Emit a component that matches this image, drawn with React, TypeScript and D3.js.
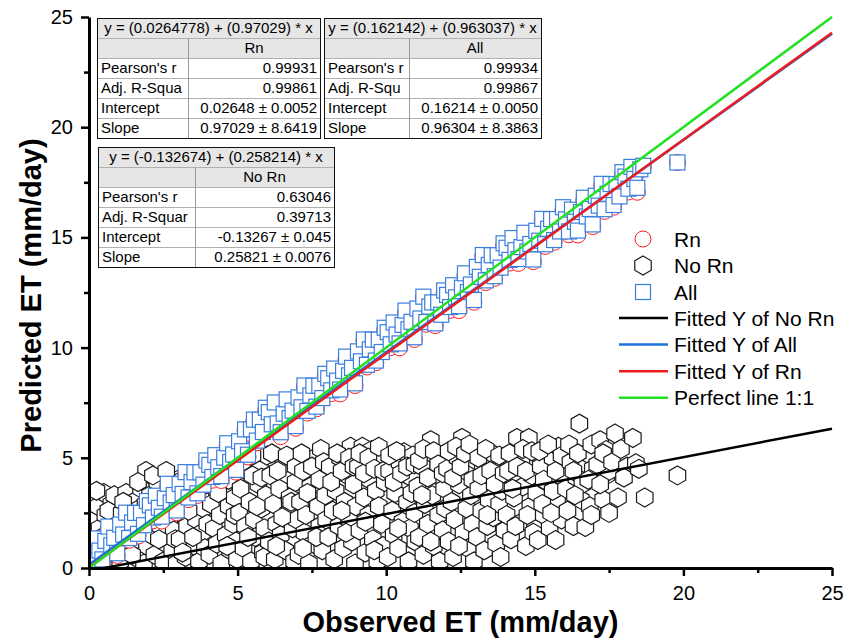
import React, { useEffect, useRef } from 'react';
import * as d3 from 'd3';

const WIDTH = 856;
const HEIGHT = 640;
const PLOT = { left: 89, right: 832, top: 17, bottom: 568 };
const FONT = '"Liberation Sans", Arial, sans-serif';

const majorTicks = [0, 5, 10, 15, 20, 25];
const minorTicks = [2.5, 7.5, 12.5, 17.5, 22.5];

// [observed, predicted with Rn, predicted with all variables]
const rnPoints = [
    [0.05, 0.80, 0.90], [0.15, 0.20, 0.35], [0.25, 1.29, 1.34], [0.35, 0.69, 0.79], [0.45, 0.19, 0.39],
    [0.55, 1.18, 1.23], [0.65, 1.78, 1.88], [0.75, 0.88, 1.03], [0.85, 1.37, 1.37], [0.95, 0.57, 0.67],
    [1.05, 1.87, 1.97], [1.15, 1.37, 1.52], [1.25, 2.46, 2.51], [1.35, 1.26, 1.36], [1.45, 1.86, 2.06],
    [1.55, 2.45, 2.50], [1.65, 1.45, 1.55], [1.75, 2.35, 2.50], [1.85, 1.94, 1.94], [1.95, 2.94, 3.04],
    [2.05, 2.74, 2.84], [2.15, 2.14, 2.29], [2.25, 3.23, 3.28], [2.35, 2.63, 2.73], [2.45, 2.13, 2.33],
    [2.55, 3.12, 3.17], [2.65, 3.72, 3.82], [2.75, 2.82, 2.97], [2.85, 3.31, 3.31], [2.95, 2.51, 2.61],
    [3.05, 3.71, 3.81], [3.15, 3.21, 3.36], [3.25, 4.30, 4.35], [3.35, 3.10, 3.20], [3.45, 3.70, 3.90],
    [3.55, 4.29, 4.34], [3.65, 3.29, 3.39], [3.75, 4.19, 4.34], [3.85, 3.78, 3.78], [3.95, 4.78, 4.88],
    [4.05, 4.58, 4.68], [4.15, 3.98, 4.13], [4.25, 5.07, 5.12], [4.35, 4.47, 4.57], [4.45, 3.97, 4.17],
    [4.55, 4.96, 5.01], [4.65, 5.56, 5.66], [4.75, 4.66, 4.81], [4.85, 5.15, 5.15], [4.95, 4.35, 4.45],
    [5.05, 5.65, 5.75], [5.15, 5.15, 5.30], [5.25, 6.24, 6.29], [5.35, 5.04, 5.14], [5.45, 6.09, 6.29],
    [5.55, 6.68, 6.73], [5.65, 5.68, 5.78], [5.75, 6.58, 6.73], [5.85, 6.17, 6.17], [5.95, 7.17, 7.27],
    [6.05, 6.97, 7.07], [6.15, 6.37, 6.52], [6.25, 7.46, 7.51], [6.35, 6.46, 6.56], [6.45, 5.96, 6.16],
    [6.55, 6.95, 7.00], [6.65, 7.55, 7.65], [6.75, 6.65, 6.80], [6.85, 7.14, 7.14], [6.95, 6.34, 6.44],
    [7.05, 7.64, 7.74], [7.15, 7.14, 7.29], [7.25, 8.23, 8.28], [7.35, 7.03, 7.13], [7.45, 7.63, 7.83],
    [7.55, 8.22, 8.27], [7.65, 7.22, 7.32], [7.75, 8.12, 8.27], [7.85, 7.71, 7.71], [7.95, 8.71, 8.81],
    [8.05, 8.51, 8.61], [8.15, 7.91, 8.06], [8.25, 9.00, 9.05], [8.35, 8.40, 8.50], [8.45, 7.90, 8.10],
    [8.55, 8.89, 8.94], [8.65, 9.49, 9.59], [8.75, 8.59, 8.74], [8.85, 9.08, 9.08], [8.95, 8.28, 8.38],
    [9.05, 9.73, 9.83], [9.15, 9.23, 9.38], [9.25, 10.32, 10.37], [9.35, 9.12, 9.22], [9.45, 9.72, 9.92],
    [9.55, 10.31, 10.36], [9.65, 9.31, 9.41], [9.75, 10.21, 10.36], [9.85, 9.80, 9.80], [9.95, 10.80, 10.90],
    [10.05, 10.60, 10.70], [10.15, 10.00, 10.15], [10.25, 11.09, 11.14], [10.35, 10.49, 10.59], [10.45, 9.99, 10.19],
    [10.55, 10.98, 11.03], [10.65, 11.58, 11.68], [10.75, 10.68, 10.83], [10.85, 11.17, 11.17], [10.95, 10.37, 10.47],
    [11.05, 11.67, 11.77], [11.15, 11.17, 11.32], [11.25, 12.26, 12.31], [11.35, 11.06, 11.16], [11.45, 11.66, 11.86],
    [11.55, 12.00, 12.05], [11.65, 11.00, 11.10], [11.75, 11.90, 12.05], [11.85, 11.49, 11.49], [11.95, 12.49, 12.59],
    [12.05, 12.29, 12.39], [12.15, 11.69, 11.84], [12.25, 12.78, 12.83], [12.35, 12.18, 12.28], [12.45, 11.68, 11.88],
    [12.55, 12.67, 12.72], [12.65, 13.27, 13.37], [12.75, 12.37, 12.52], [12.85, 12.86, 12.86], [12.95, 12.06, 12.16],
    [13.05, 13.56, 13.66], [13.15, 13.06, 13.21], [13.25, 14.15, 14.20], [13.35, 12.95, 13.05], [13.45, 13.55, 13.75],
    [13.55, 14.14, 14.19], [13.65, 13.14, 13.24], [13.75, 14.04, 14.19], [13.85, 13.63, 13.63], [13.95, 14.63, 14.73],
    [14.05, 14.43, 14.53], [14.15, 13.83, 13.98], [14.25, 14.92, 14.97], [14.35, 14.32, 14.42], [14.45, 13.82, 14.02],
    [14.55, 14.51, 14.56], [14.65, 15.11, 15.21], [14.75, 14.21, 14.36], [14.85, 14.70, 14.70], [14.95, 13.90, 14.00],
    [15.05, 15.20, 15.30], [15.15, 14.70, 14.85], [15.25, 15.79, 15.84], [15.35, 14.59, 14.69], [15.45, 15.19, 15.39],
    [15.55, 15.78, 15.83], [15.65, 14.78, 14.88], [15.75, 15.68, 15.83], [15.85, 15.27, 15.27], [15.95, 16.27, 16.37],
    [16.05, 15.72, 15.82], [16.15, 15.12, 15.27], [16.25, 16.21, 16.26], [16.35, 15.61, 15.71], [16.45, 15.11, 15.31],
    [16.55, 16.10, 16.15], [16.65, 16.70, 16.80], [16.75, 15.80, 15.95], [16.85, 16.29, 16.29], [16.95, 15.49, 15.59],
    [17.05, 16.79, 16.89], [17.15, 16.29, 16.44], [17.25, 17.38, 17.43], [17.35, 16.18, 16.28], [17.45, 16.78, 16.98],
    [17.55, 17.37, 17.42], [17.65, 16.37, 16.47], [17.75, 17.27, 17.42], [17.85, 16.86, 16.86], [17.95, 17.86, 17.96],
    [18.05, 17.66, 17.76], [18.15, 17.06, 17.21], [18.25, 18.15, 18.20], [18.35, 17.55, 17.65], [18.45, 17.05, 17.25],
    [18.55, 18.04, 18.09], [18.65, 18.20, 18.25], [19.8, 18.4, 18.4],
];

// [observed, predicted without Rn]
const noRnPoints = [
    [0.05, 3.2], [0.1, 2.2], [0.15, 1.3], [0.2, 0.4], [0.3, 2.8], [0.35, 1.8], [0.4, 0.9], [0.5, 3.4],
    [0.55, 2.4], [0.6, 0.2], [0.7, 1.5], [0.75, 2.9], [0.8, 0.7], [0.9, 2.0], [0.95, 1.1], [0.98, 3.0],
    [0.25, 3.5], [0.45, 1.4], [0.65, 2.6], [0.85, 3.3], [0.4, 0.2],
    [1.05, 0.3], [1.1, 2.5], [1.2, 1.6], [1.25, 3.4], [1.3, 0.9], [1.4, 2.1], [1.5, 3.0], [1.55, 0.5],
    [1.6, 1.3], [1.7, 2.7], [1.75, 3.6], [1.8, 1.9], [1.85, 0.2], [1.92, 4.4], [1.95, 1.0], [1.98, 2.4],
    [1.15, 3.0], [1.35, 1.8], [1.45, 0.6], [1.65, 3.9], [1.9, 2.9],
    [2.05, 3.3], [2.1, 1.5], [2.2, 0.6], [2.25, 2.6], [2.3, 3.9], [2.4, 1.9], [2.5, 0.3], [2.55, 3.1],
    [2.6, 1.1], [2.7, 2.3], [2.75, 3.6], [2.8, 0.8], [2.85, 1.7], [2.9, 2.9], [2.95, 0.2], [2.98, 4.0],
    [2.15, 4.2], [2.35, 1.3], [2.45, 2.9], [2.65, 3.4], [2.9, 1.3], [2.6, 4.4],
    [3.05, 1.3], [3.1, 2.5], [3.2, 3.5], [3.25, 0.5], [3.3, 1.9], [3.4, 3.0], [3.45, 4.1], [3.55, 1.0],
    [3.6, 2.2], [3.7, 0.3], [3.75, 3.3], [3.8, 1.6], [3.85, 2.7], [3.9, 0.9], [3.95, 3.8], [3.98, 2.0],
    [3.15, 4.0], [3.35, 2.6], [3.5, 1.4], [3.65, 3.9], [3.9, 4.4], [3.15, 0.7],
    [4.05, 0.6], [4.1, 2.9], [4.2, 1.8], [4.25, 3.9], [4.3, 1.1], [4.4, 2.4], [4.45, 0.2], [4.55, 3.4],
    [4.6, 1.5], [4.7, 2.8], [4.75, 0.8], [4.8, 4.3], [4.85, 2.0], [4.9, 3.2], [4.95, 1.2], [4.98, 0.4],
    [4.15, 4.4], [4.35, 3.4], [4.5, 4.8], [4.65, 1.0], [4.7, 4.0], [4.9, 2.4],
    [5.05, 2.5], [5.1, 3.6], [5.2, 0.9], [5.25, 1.9], [5.3, 4.4], [5.4, 3.0], [5.45, 0.3], [5.55, 2.2],
    [5.6, 1.4], [5.7, 3.8], [5.75, 4.8], [5.8, 2.7], [5.85, 0.7], [5.9, 1.8], [5.95, 3.3], [5.98, 5.1],
    [5.15, 4.8], [5.35, 1.4], [5.5, 4.2], [5.65, 2.8], [5.8, 4.1], [5.9, 0.5], [5.5, 5.1],
    [6.05, 1.2], [6.1, 4.2], [6.2, 2.9], [6.25, 0.4], [6.3, 2.0], [6.4, 3.6], [6.45, 1.5], [6.55, 4.7],
    [6.6, 0.8], [6.7, 2.5], [6.75, 3.2], [6.8, 5.0], [6.85, 1.8], [6.9, 0.3], [6.95, 3.9], [6.98, 2.2],
    [6.15, 5.2], [6.35, 4.4], [6.5, 2.3], [6.65, 5.1], [6.8, 3.0], [6.95, 4.6], [6.3, 1.0],
    [7.05, 0.6], [7.1, 3.0], [7.2, 4.4], [7.25, 1.6], [7.3, 2.4], [7.4, 0.2], [7.45, 3.7], [7.55, 1.1],
    [7.6, 5.0], [7.7, 2.8], [7.75, 1.9], [7.8, 5.4], [7.85, 0.8], [7.9, 4.1], [7.95, 3.3], [7.98, 2.2],
    [7.15, 5.2], [7.35, 3.4], [7.5, 4.6], [7.65, 1.4], [7.75, 4.0], [7.9, 4.8], [7.2, 0.9],
    [8.05, 1.4], [8.1, 4.6], [8.2, 2.6], [8.25, 0.4], [8.3, 3.5], [8.4, 1.9], [8.45, 5.0], [8.55, 0.9],
    [8.6, 3.0], [8.7, 4.2], [8.75, 2.2], [8.8, 5.5], [8.85, 1.2], [8.9, 3.8], [8.95, 0.2], [8.98, 2.8],
    [8.15, 3.9], [8.35, 5.2], [8.5, 4.4], [8.65, 1.6], [8.75, 5.0], [8.9, 4.6], [8.5, 2.6],
    [9.05, 4.6], [9.1, 1.7], [9.2, 5.5], [9.25, 3.2], [9.3, 0.7], [9.4, 2.4], [9.45, 4.0], [9.5, 5.35],
    [9.55, 1.3], [9.65, 3.5], [9.7, 0.3], [9.75, 2.8], [9.8, 4.9], [9.85, 2.0], [9.9, 1.0], [9.95, 3.9],
    [9.1, 5.2], [9.25, 4.3], [9.4, 5.0], [9.6, 4.5], [9.75, 5.5], [9.9, 4.4], [9.3, 2.1], [9.6, 0.8],
    [10.05, 0.5], [10.1, 4.4], [10.2, 2.6], [10.25, 1.5], [10.3, 3.4], [10.4, 0.9], [10.45, 4.8], [10.55, 2.1],
    [10.6, 5.25], [10.7, 3.0], [10.75, 0.3], [10.8, 1.8], [10.85, 4.1], [10.9, 5.1], [10.95, 2.5], [10.98, 1.2],
    [10.1, 5.1], [10.25, 3.9], [10.35, 5.3], [10.5, 4.3], [10.7, 4.6], [10.85, 3.4], [10.95, 4.7], [10.4, 1.8],
    [11.05, 3.7], [11.1, 1.4], [11.2, 4.6], [11.25, 0.6], [11.3, 2.9], [11.4, 2.0], [11.5, 5.8], [11.55, 3.3],
    [11.6, 1.0], [11.7, 4.2], [11.75, 2.4], [11.8, 0.3], [11.85, 5.0], [11.9, 1.7], [11.95, 3.6], [11.98, 2.7],
    [11.1, 4.9], [11.25, 5.4], [11.4, 4.1], [11.6, 5.3], [11.75, 4.7], [11.9, 4.3], [11.2, 3.3], [11.5, 1.2],
    [12.05, 4.5], [12.1, 1.2], [12.2, 3.0], [12.25, 0.5], [12.3, 2.2], [12.4, 5.0], [12.45, 3.8], [12.55, 5.9],
    [12.6, 1.6], [12.7, 2.7], [12.75, 0.9], [12.8, 4.3], [12.85, 3.3], [12.9, 2.0], [12.95, 0.3], [12.98, 4.9],
    [12.1, 5.3], [12.25, 4.1], [12.35, 5.5], [12.5, 4.6], [12.65, 5.2], [12.8, 5.6], [12.9, 4.0], [12.45, 1.0],
    [13.05, 1.4], [13.1, 3.6], [13.2, 2.6], [13.25, 4.6], [13.3, 0.8], [13.4, 1.9], [13.45, 3.1], [13.55, 5.2],
    [13.6, 2.3], [13.7, 1.1], [13.75, 4.0], [13.8, 2.9], [13.85, 0.5], [13.9, 3.5], [13.95, 4.8], [13.98, 1.7],
    [13.1, 5.0], [13.2, 4.2], [13.35, 5.4], [13.5, 4.4], [13.65, 3.8], [13.8, 5.1], [13.95, 4.3], [13.4, 2.4],
    [14.05, 2.4], [14.1, 4.4], [14.2, 1.3], [14.3, 3.2], [14.4, 5.9], [14.45, 2.0], [14.55, 4.9], [14.6, 3.7],
    [14.7, 1.0], [14.8, 5.9], [14.85, 2.8], [14.9, 4.2], [14.95, 1.6],
    [14.15, 5.2], [14.25, 3.6], [14.4, 4.6], [14.6, 5.4], [14.7, 4.4], [14.9, 5.3], [14.35, 1.9], [14.75, 2.4],
    [15.05, 3.4], [15.1, 1.27], [15.2, 4.6], [15.3, 2.4], [15.4, 3.9], [15.5, 1.8], [15.6, 5.0], [15.7, 1.27],
    [15.75, 3.0], [15.8, 5.5], [15.9, 2.2], [15.95, 4.3],
    [15.15, 5.3], [15.3, 4.0], [15.45, 5.6], [15.6, 3.5], [15.7, 4.4], [15.9, 5.1], [15.25, 2.9], [15.55, 2.5],
    [16.05, 3.6], [16.1, 2.6], [16.2, 4.8], [16.3, 1.9], [16.4, 4.1], [16.5, 6.55], [16.55, 3.1], [16.7, 1.86],
    [16.75, 5.2], [16.85, 2.8], [16.9, 2.4], [16.95, 4.5],
    [16.15, 5.6], [16.3, 4.4], [16.45, 5.2], [16.6, 3.8], [16.8, 4.0], [16.9, 5.6], [16.35, 3.3],
    [17.2, 5.8], [17.3, 3.1], [17.4, 4.2], [17.4, 5.35], [17.5, 2.5], [17.5, 4.4], [17.7, 6.1], [17.8, 3.2],
    [17.1, 4.7], [17.3, 5.2], [17.6, 4.8], [17.9, 5.4], [18.1, 4.6], [17.2, 3.8],
    [18.0, 4.1], [18.3, 5.9], [18.4, 4.75], [18.5, 4.5], [18.7, 3.2], [19.8, 4.2],
];

// fitted lines, in drawing order: No Rn, All, Rn, 1:1
const fitIntercepts = [-0.132674, 0.162142, 0.0264778, 0];
const fitSlopes = [0.258214, 0.963037, 0.97029, 1];
const fitLabels = ['Fitted Y of No Rn', 'Fitted Y of All', 'Fitted Y of Rn', 'Perfect line 1:1'];
const fitColors = ['#000000', '#1f6fdc', '#ee1c1c', '#22e022'];

const symbolLabels = ['Rn', 'No Rn', 'All'];

const statLabelsRn = ["Pearson's r", 'Adj. R-Squa', 'Intercept', 'Slope'];
const statLabelsAll = ["Pearson's r", 'Adj. R-Squ', 'Intercept', 'Slope'];
const statLabelsNoRn = ["Pearson's r", 'Adj. R-Squar', 'Intercept', 'Slope'];
const statsRn = ['0.99931', '0.99861', '0.02648 ± 0.0052', '0.97029 ± 8.6419'];
const statsAll = ['0.99934', '0.99867', '0.16214 ± 0.0050', '0.96304 ± 8.3863'];
const statsNoRn = ['0.63046', '0.39713', '-0.13267 ± 0.045', '0.25821 ± 0.0076'];

const COLORS = { rn: '#ff2020', all: '#3a7ee0', noRn: '#1a1a1a' };

const HEX_R = 9.5;
const hexPath = d3.range(6)
    .map(i => {
        const a = (Math.PI / 3) * i - Math.PI / 2;
        return `${i ? 'L' : 'M'}${(HEX_R * Math.cos(a)).toFixed(2)},${(HEX_R * Math.sin(a)).toFixed(2)}`;
    })
    .join('') + 'Z';
const SQ = 15;
const CIRCLE_R = 8;

const ROW_H = 20;

const StatTable = ({ x, y, labelW, valueW, title, header, labels, values }) => {
    const w = labelW + valueW;
    const h = ROW_H * (labels.length + 2);
    return (
        <g transform={`translate(${x},${y})`} style={{ fontFamily: FONT, fontSize: 15 }}>
            <rect width={w} height={ROW_H * 2} fill="#e6e6e6" />
            <rect y={ROW_H * 2} width={w} height={h - ROW_H * 2} fill="#fff" />
            {d3.range(1, labels.length + 2).map(i => (
                <line key={i} x1={0} x2={w} y1={i * ROW_H + 0.5} y2={i * ROW_H + 0.5} stroke="#b0b0b0" />
            ))}
            <line x1={labelW + 0.5} x2={labelW + 0.5} y1={ROW_H} y2={h} stroke="#9a9a9a" />
            <rect x={0.5} y={0.5} width={w} height={h} fill="none" stroke="#111" />
            <text x={w / 2} y={ROW_H / 2} dy="0.36em" textAnchor="middle">{title}</text>
            <text x={labelW + valueW / 2} y={ROW_H * 1.5} dy="0.36em" textAnchor="middle">{header}</text>
            {labels.map((l, i) => (
                <g key={l}>
                    <text x={4} y={ROW_H * (i + 2.5)} dy="0.36em">{l}</text>
                    <text x={w - 3} y={ROW_H * (i + 2.5)} dy="0.36em" textAnchor="end">{values[i]}</text>
                </g>
            ))}
        </g>
    );
};

const App = () => {
    const xAxisRef = useRef(null);
    const yAxisRef = useRef(null);

    const x = d3.scaleLinear().domain([0, 25]).range([PLOT.left, PLOT.right]);
    const y = d3.scaleLinear().domain([0, 25]).range([PLOT.bottom, PLOT.top]);

    useEffect(() => {
        const styleAxis = g => {
            g.select('.domain').attr('stroke-width', 3);
            g.selectAll('.tick line').attr('stroke-width', 2.5);
            g.selectAll('.tick text').style('font-family', FONT).style('font-size', '20px').attr('fill', '#000');
        };

        const xg = d3.select(xAxisRef.current);
        xg.select('.major').call(d3.axisBottom(x).tickValues(majorTicks).tickSize(8).tickSizeOuter(0).tickPadding(10))
            .call(styleAxis);
        xg.select('.minor').call(d3.axisBottom(x).tickValues(minorTicks).tickSize(5).tickFormat(() => ''))
            .call(g => g.select('.domain').remove())
            .call(styleAxis);

        const yg = d3.select(yAxisRef.current);
        yg.select('.major').call(d3.axisLeft(y).tickValues(majorTicks).tickSize(8).tickSizeOuter(0).tickPadding(8))
            .call(styleAxis);
        yg.select('.minor').call(d3.axisLeft(y).tickValues(minorTicks).tickSize(5).tickFormat(() => ''))
            .call(g => g.select('.domain').remove())
            .call(styleAxis);
    }, []);

    const fitLine = (i: number) => d3.line()([0, 25].map(v => [x(v), y(fitIntercepts[i] + fitSlopes[i] * v)]));

    return (
        <svg width={WIDTH} height={HEIGHT} style={{ position: 'absolute', left: 0, top: 0, background: '#fff' }}>
            <defs>
                <clipPath id="plot-clip">
                    <rect x={PLOT.left} y={PLOT.top - 2} width={PLOT.right - PLOT.left + 2} height={PLOT.bottom - PLOT.top + 2} />
                </clipPath>
            </defs>

            <g clipPath="url(#plot-clip)">
                {noRnPoints.map(([o, p], i) => (
                    <path key={`h${i}`} d={hexPath} transform={`translate(${x(o)},${y(p)})`}
                        fill="#fff" stroke={COLORS.noRn} strokeWidth={1.2} />
                ))}
                {rnPoints.map(([o, p], i) => (
                    <circle key={`c${i}`} cx={x(o)} cy={y(p)} r={CIRCLE_R}
                        fill="#fff" stroke={COLORS.rn} strokeWidth={1} />
                ))}
                {rnPoints.map(([o, , a], i) => (
                    <rect key={`s${i}`} x={x(o) - SQ / 2} y={y(a) - SQ / 2} width={SQ} height={SQ}
                        fill="#fff" stroke={COLORS.all} strokeWidth={1.2} />
                ))}
                {fitColors.map((c, i) => (
                    <path key={`f${i}`} d={fitLine(i)} fill="none" stroke={c} strokeWidth={2.5} />
                ))}
            </g>

            <g ref={xAxisRef} transform={`translate(0,${PLOT.bottom})`}>
                <g className="minor" />
                <g className="major" />
            </g>
            <g ref={yAxisRef} transform={`translate(${PLOT.left},0)`}>
                <g className="minor" />
                <g className="major" />
            </g>

            <text x={(PLOT.left + PLOT.right) / 2} y={632} textAnchor="middle"
                style={{ fontFamily: FONT, fontSize: 29, fontWeight: 'bold' }}>Observed ET (mm/day)</text>
            <text transform={`translate(41,${(PLOT.top + PLOT.bottom) / 2 + 3}) rotate(-90)`} textAnchor="middle"
                style={{ fontFamily: FONT, fontSize: 29, fontWeight: 'bold' }}>Predicted ET (mm/day)</text>

            <StatTable x={97} y={18} labelW={91} valueW={132} title="y = (0.0264778) + (0.97029) * x"
                header="Rn" labels={statLabelsRn} values={statsRn} />
            <StatTable x={324} y={18} labelW={85} valueW={132} title="y = (0.162142) + (0.963037) * x"
                header="All" labels={statLabelsAll} values={statsAll} />
            <StatTable x={98} y={147} labelW={97} valueW={139} title="y = (-0.132674) + (0.258214) * x"
                header="No Rn" labels={statLabelsNoRn} values={statsNoRn} />

            <g style={{ fontFamily: FONT, fontSize: 21 }}>
                {symbolLabels.map((l, i) => {
                    const cy = 239 + i * 26.5;
                    return (
                        <g key={l}>
                            {i === 0 && <circle cx={643} cy={cy} r={CIRCLE_R} fill="#fff" stroke={COLORS.rn} />}
                            {i === 1 && <path d={hexPath} transform={`translate(643,${cy})`} fill="#fff" stroke={COLORS.noRn} strokeWidth={1.2} />}
                            {i === 2 && <rect x={643 - SQ / 2} y={cy - SQ / 2} width={SQ} height={SQ} fill="#fff" stroke={COLORS.all} strokeWidth={1.2} />}
                            <text x={674} y={cy} dy="0.36em">{l}</text>
                        </g>
                    );
                })}
                {fitLabels.map((l, i) => {
                    const cy = 318 + i * 26.6;
                    return (
                        <g key={l}>
                            <line x1={619} x2={668} y1={cy} y2={cy} stroke={fitColors[i]} strokeWidth={2.5} />
                            <text x={674} y={cy} dy="0.36em">{l}</text>
                        </g>
                    );
                })}
            </g>
        </svg>
    );
};

export default App;
